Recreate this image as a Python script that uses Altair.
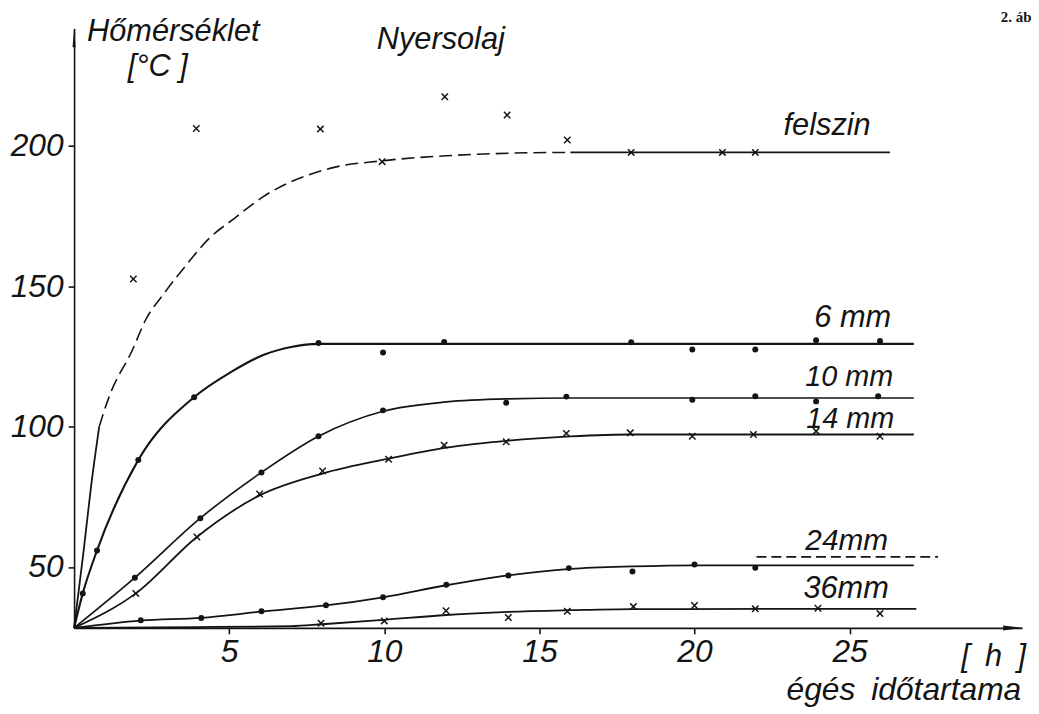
import altair as alt
import pandas as pd

INK = "#141414"
FONT = "Liberation Sans"

# ---------------- data (hours, temperature °C) ----------------
# felszin (surface) fitted curve: solid start, dashed middle, solid end
felszin_a_h = [0, 0.3, 0.55, 0.81]
felszin_a_t = [28.3, 55, 79, 100]
felszin_b_h = [0.81, 1.13, 1.88, 2.3, 2.89, 3.64, 4.33, 5.19, 6.04, 8.28, 9.93, 12, 14, 16]
felszin_b_t = [100, 110.7, 127.3, 137.9, 147.3, 157.9, 166.8, 174.4, 181.5, 192.1, 194.7, 196.5, 197.4, 197.7]
felszin_c_h = [16, 26.3]
felszin_c_t = [197.7, 197.7]
felszin_pts_h = [1.91, 3.94, 7.94, 9.93, 11.95, 13.96, 15.9, 17.96, 20.9, 21.96]
felszin_pts_t = [152.6, 206.2, 206.0, 194.4, 217.5, 211.0, 202.1, 197.7, 197.7, 197.7]

mm6_h = [0, 0.28, 0.74, 2.07, 3.87, 5.08, 6.14, 7.0, 7.88, 10, 27.07]
mm6_t = [28.3, 40.6, 55.9, 88.1, 110.5, 119.6, 125.7, 128.4, 129.5, 129.5, 129.5]
mm6_pts_h = [0.28, 0.74, 2.07, 3.87, 7.88, 9.96, 11.93, 17.96, 19.93, 21.96, 23.92, 25.98]
mm6_pts_t = [40.6, 55.9, 88.1, 110.5, 129.8, 126.4, 130.2, 130.1, 127.5, 127.5, 130.8, 130.5]

mm10_h = [0, 1.96, 4.07, 6.04, 7.88, 9.96, 12, 14, 16, 27.07]
mm10_t = [28.3, 46.2, 67.4, 83.7, 96.6, 105.5, 108.8, 109.9, 110.2, 110.2]
mm10_pts_h = [1.96, 4.07, 6.04, 7.88, 9.96, 13.93, 15.87, 19.93, 21.96, 23.92, 25.92]
mm10_pts_t = [46.2, 67.4, 83.7, 96.6, 105.8, 108.5, 110.7, 109.6, 110.8, 109.0, 110.8]

mm14_h = [0, 1.99, 3.96, 5.98, 8.01, 10.14, 12, 14, 16, 18, 27.07]
mm14_t = [28.3, 40.6, 60.7, 75.5, 83.3, 88.6, 92.5, 95.0, 96.5, 97.2, 97.2]
mm14_pts_h = [1.99, 3.96, 5.98, 8.01, 10.14, 11.93, 13.93, 15.87, 17.93, 19.93, 21.9, 23.92, 25.98]
mm14_pts_t = [40.6, 60.7, 76.0, 84.2, 88.4, 93.4, 94.6, 97.6, 97.8, 96.6, 97.2, 98.4, 96.6]

mm24_h = [0, 2.15, 4.1, 6.04, 8.12, 9.96, 12, 14, 16, 18, 20, 27.07]
mm24_t = [28.3, 30.9, 31.9, 34.1, 36.3, 39.2, 43.5, 47.0, 49.3, 50.2, 50.6, 50.6]
mm24_pts_h = [2.15, 4.1, 6.04, 8.12, 9.96, 12.0, 14.0, 15.95, 18.0, 20.0, 21.96]
mm24_pts_t = [31.0, 31.8, 34.2, 36.4, 39.2, 43.7, 47.0, 49.6, 48.4, 50.9, 49.7]
mm24_dash_h = [22, 27.85]
mm24_dash_t = [53.6, 53.6]

mm36_h = [0, 4, 7.0, 8.0, 10.0, 12.0, 14.0, 16.0, 18.0, 27.15]
mm36_t = [28.3, 28.6, 28.9, 29.6, 31.2, 32.9, 34.0, 34.6, 35.0, 35.1]
mm36_pts_h = [7.96, 10.0, 11.99, 14.0, 15.9, 18.03, 20.0, 21.96, 23.98, 25.98]
mm36_pts_t = [30.0, 30.8, 34.4, 32.0, 34.2, 35.9, 36.3, 35.1, 35.3, 33.4]

x_ticks = [5, 10, 15, 20, 25]
y_ticks = [50, 100, 150, 200]
x_domain = [0, 30.56]
y_domain = [28.3, 241.8]

# ---------------- chart ----------------
xs = alt.Scale(domain=x_domain, nice=False, zero=False)
ys = alt.Scale(domain=y_domain, nice=False, zero=False)
x_axis = alt.Axis(values=x_ticks, title=None, tickSize=6, labelPadding=3, labelFlush=False)
y_axis = alt.Axis(values=y_ticks, title=None, tickSize=6, labelPadding=5)


def enc():
    return dict(x=alt.X("h:Q", scale=xs, axis=x_axis), y=alt.Y("t:Q", scale=ys, axis=y_axis))


def curve(h, t, width=1.8, dash=None):
    kw = dict(color=INK, strokeWidth=width, interpolate="monotone")
    if dash:
        kw["strokeDash"] = dash
    return alt.Chart(pd.DataFrame({"h": h, "t": t})).mark_line(**kw).encode(**enc())


def dots(h, t):
    return alt.Chart(pd.DataFrame({"h": h, "t": t})).mark_circle(
        size=36, color=INK, opacity=1).encode(**enc())


def crosses(h, t):
    return alt.Chart(pd.DataFrame({"h": h, "t": t})).mark_point(
        shape="M-1,-1L1,1M-1,1L1,-1", size=42, filled=False, strokeWidth=1.5,
        color=INK, opacity=1).encode(**enc())


def label(txt, x, y, size=30, style="italic", font=FONT, weight="normal"):
    return alt.Chart(pd.DataFrame({"s": [txt]})).mark_text(
        align="left", baseline="alphabetic", fontSize=size, fontStyle=style,
        font=font, fontWeight=weight, color=INK).encode(
        x=alt.value(x), y=alt.value(y), text="s:N")


# axis arrows
arrow_up = alt.Chart(pd.DataFrame({"h": [x_domain[0]], "t": [y_domain[1]]})).mark_point(
    shape="M0,-1L0.16,1L-0.16,1Z", size=380, filled=True, color=INK, opacity=1,
    yOffset=9).encode(**enc())
arrow_right = alt.Chart(pd.DataFrame({"h": [x_domain[1]], "t": [y_domain[0]]})).mark_point(
    shape="M1,0L-1,-0.25L-1,0.25Z", size=400, filled=True, color=INK, opacity=1,
    xOffset=-9).encode(**enc())

layers = [
    curve(mm6_h, mm6_t, width=2.1),
    curve(felszin_a_h, felszin_a_t, width=1.8),
    curve(felszin_b_h, felszin_b_t, width=1.6, dash=[13, 6]),
    curve(felszin_c_h, felszin_c_t, width=1.6),
    crosses(felszin_pts_h, felszin_pts_t),
    dots(mm6_pts_h, mm6_pts_t),
    curve(mm10_h, mm10_t, width=1.7),
    dots(mm10_pts_h, mm10_pts_t),
    curve(mm14_h, mm14_t, width=1.8),
    crosses(mm14_pts_h, mm14_pts_t),
    curve(mm24_h, mm24_t, width=1.8),
    dots(mm24_pts_h, mm24_pts_t),
    curve(mm24_dash_h, mm24_dash_t, width=1.6, dash=[10, 5]),
    curve(mm36_h, mm36_t, width=1.8),
    crosses(mm36_pts_h, mm36_pts_t),
    arrow_up,
    arrow_right,
    label("Hőmérséklet", 13, 12, size=31),
    label("[°C\u00a0]", 54, 48, size=31),
    label("Nyersolaj", 305, 21, size=31),
    label("felszin", 715, 107, size=31),
    label("6 mm", 746, 301, size=31),
    label("10 mm", 737, 360, size=29),
    label("14 mm", 738, 403, size=29),
    label("24mm", 737, 525),
    label("36mm", 735, 574, size=31),
    label("[\u2002h\u2002]", 894, 642, size=31),
    label("égés\u2002időtartama", 718, 677, size=32),
    label("2. ábra", 934, -7, size=15, style="normal", font="Liberation Serif", weight="bold"),
]

chart = alt.layer(*layers).properties(
    width=955.4,
    height=604,
    padding={"left": 66.6, "top": 18, "right": 9, "bottom": 84},
    autosize=alt.AutoSizeParams(type="none"),
    background="white",
).configure_view(stroke=None).configure_axis(
    domainColor=INK, domainWidth=1.6, tickColor=INK, tickWidth=1.6, grid=False,
    labelFont=FONT, labelFontStyle="italic", labelFontSize=32, labelColor=INK,
)

chart.save("out.html", embed_options={"renderer": "svg", "actions": False})
